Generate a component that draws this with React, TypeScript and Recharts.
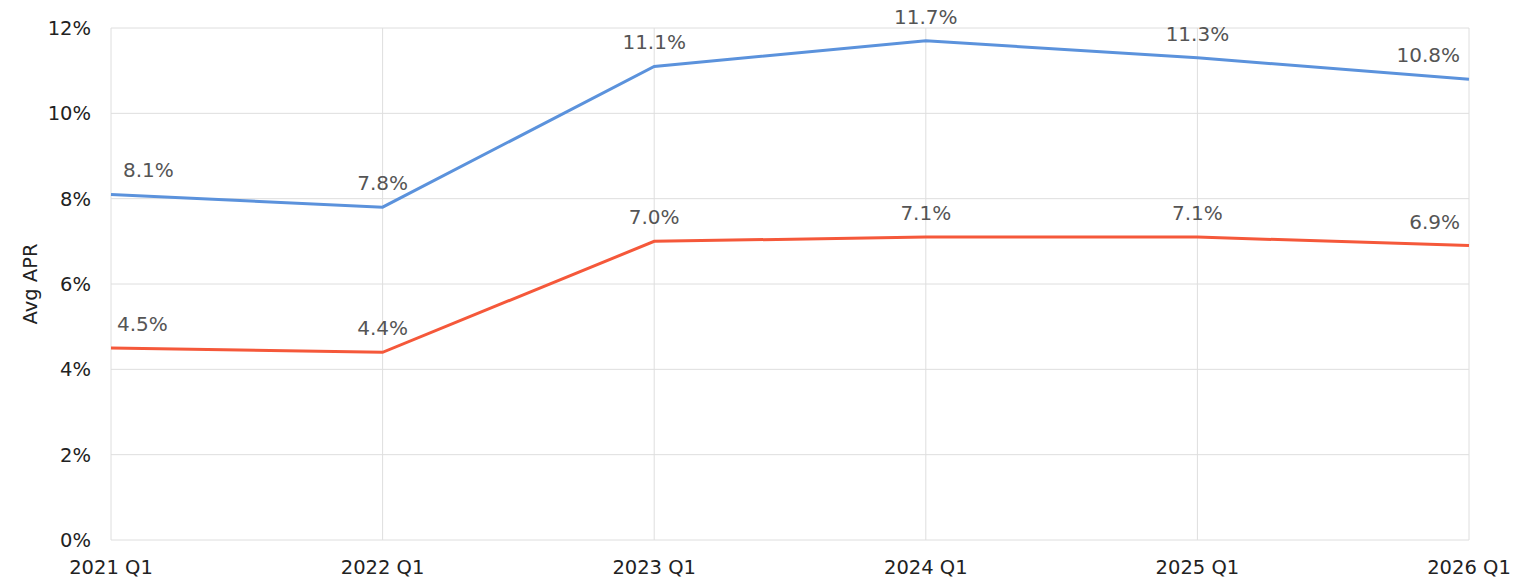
import React from 'react';
import { LineChart, Line, XAxis, YAxis, CartesianGrid, Label } from 'recharts';

const categories = ['2021 Q1', '2022 Q1', '2023 Q1', '2024 Q1', '2025 Q1', '2026 Q1'];
const upperApr = [8.1, 7.8, 11.1, 11.7, 11.3, 10.8];
const lowerApr = [4.5, 4.4, 7.0, 7.1, 7.1, 6.9];
const yTicks = [0, 2, 4, 6, 8, 10, 12];

const data = categories.map((c, i) => ({ period: c, upper: upperApr[i], lower: lowerApr[i] }));

const FONT = '"DejaVu Sans", Verdana, sans-serif';

const makeLabel = (firstOffset: number) => (props: any) => {
  const { x, y, value, index } = props;
  const last = categories.length - 1;
  let anchor: 'start' | 'middle' | 'end' = 'middle';
  let dx = 0;
  if (index === 0) {
    anchor = 'start';
    dx = firstOffset;
  } else if (index === last) {
    anchor = 'end';
    dx = -9;
  }
  return (
    <text
      key={`lbl-${index}`}
      x={x + dx}
      y={y - 17}
      textAnchor={anchor}
      fill="#555555"
      fontSize={20}
      fontFamily={FONT}
    >
      {`${Number(value).toFixed(1)}%`}
    </text>
  );
};

export default function App() {
  return (
    <div style={{ position: 'absolute', left: 0, top: 0, background: '#fff' }}>
      <LineChart
        width={1527}
        height={582}
        data={data}
        margin={{ top: 28, right: 58, bottom: 0, left: 0 }}
      >
        <CartesianGrid stroke="#dedede" strokeWidth={1} vertical horizontal />
        <XAxis
          dataKey="period"
          height={42}
          axisLine={false}
          tickLine={false}
          tickSize={0}
          tickMargin={20}
          interval={0}
          tick={{ fill: '#222222', fontSize: 19.5, fontFamily: FONT }}
        />
        <YAxis
          width={111}
          domain={[0, 12]}
          ticks={yTicks}
          axisLine={false}
          tickLine={false}
          tickSize={0}
          tickMargin={20}
          tickFormatter={(v: number) => `${v}%`}
          tick={{ fill: '#222222', fontSize: 19.5, fontFamily: FONT }}
        >
          <Label
            content={(p: any) => {
              const vb = p.viewBox || { x: 0, y: 28, width: 111, height: 512 };
              return (
                <text
                  transform={`translate(${vb.x + 30}, ${vb.y + vb.height / 2}) rotate(-90)`}
                  textAnchor="middle"
                  dominantBaseline="central"
                  fill="#222222"
                  fontSize={19.5}
                  fontFamily={FONT}
                >
                  Avg APR
                </text>
              );
            }}
          />
        </YAxis>
        <Line
          type="linear"
          dataKey="upper"
          stroke="#5B92DC"
          strokeWidth={3}
          dot={false}
          activeDot={false}
          isAnimationActive={false}
          label={makeLabel(12)}
        />
        <Line
          type="linear"
          dataKey="lower"
          stroke="#F5583A"
          strokeWidth={3}
          dot={false}
          activeDot={false}
          isAnimationActive={false}
          label={makeLabel(6)}
        />
      </LineChart>
    </div>
  );
}
